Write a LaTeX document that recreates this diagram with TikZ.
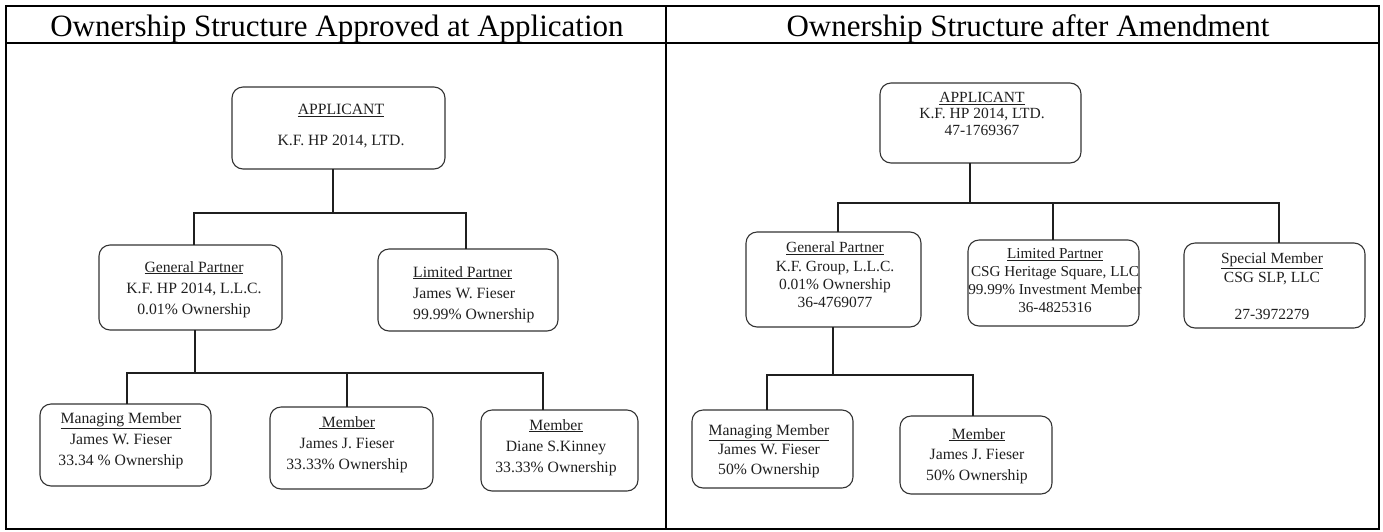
\documentclass[tikz,border=0pt]{standalone}
\usepackage{fontspec}
\setmainfont{Liberation Serif}
% box from (x1,y1) to (x2,y2), named #1
\newcommand\orgbox[5]{\node[ownbox, minimum width={#4-#2}, minimum height={#5-#3}] (#1) at ({(#2+#4)/2},{(#3+#5)/2}) {};}
\begin{document}
\begin{tikzpicture}[x=1pt,y=-1pt,
  ownbox/.style={draw=black!80, line width=1.1pt, rounded corners=11pt, inner sep=0pt, outer sep=0pt},
  boxtext/.style={inner sep=0pt, anchor=north, align=center, text=black!88},
  link/.style={draw=black!88, line width=1.4pt},
  frame/.style={line width=2pt},
  head/.style={anchor=base, font=\fontsize{31}{38}\selectfont}]
\useasboundingbox (0,0) rectangle (1383,531);

% table frame
\draw[frame] (6,6) rectangle (1379,529);
\draw[frame] (6,43) -- (1379,43);
\draw[frame] (666,6) -- (666,529);
\node[head] (hL) at (337,36) {Ownership Structure Approved at Application};
\node[head] (hR) at (1028,36) {Ownership Structure after Amendment};

% ---------- structure approved at application ----------
\orgbox{appL}{232}{87}{445}{169}
\node[boxtext, font=\fontsize{15.7}{31}\selectfont] (appLt) at (341,104) {\underline{APPLICANT}\\K.F. HP 2014, LTD.};

\orgbox{gpL}{99}{245}{282}{330}
\node[boxtext, font=\fontsize{15.7}{21}\selectfont] (gpLt) at (194,261) {\underline{General Partner}\\K.F. HP 2014, L.L.C.\\0.01\% Ownership};

\orgbox{lpL}{378}{249}{558}{331}
\node[boxtext, anchor=north west, align=left, font=\fontsize{15.7}{21}\selectfont] (lpLt) at (413,266) {\underline{Limited Partner}\\James W. Fieser\\99.99\% Ownership};

\orgbox{mmL}{40}{404}{211}{486}
\node[boxtext, font=\fontsize{15.7}{21}\selectfont] (mmLt) at (121,412) {\underline{Managing Member}\\James W. Fieser\\33.34 \% Ownership};

\orgbox{mbLa}{270}{407}{433}{489}
\node[boxtext, font=\fontsize{15.7}{21}\selectfont] (mbLat) at (347,416) {\underline{\hspace{3pt}Member}\\James J. Fieser\\33.33\% Ownership};

\orgbox{mbLb}{481}{410}{638}{491}
\node[boxtext, font=\fontsize{15.7}{21}\selectfont] (mbLbt) at (556,419) {\underline{Member}\\Diane S.Kinney\\33.33\% Ownership};

% connectors
\coordinate (jLa) at (333,213);
\coordinate (busLa) at (194,213);
\coordinate (busLb) at (466,213);
\draw[link] (jLa |- appL.south) -- (jLa);
\draw[link] (busLa |- gpL.north) -- (busLa) -- (busLb) -- (busLb |- lpL.north);
\coordinate (jLb) at (195,373);
\coordinate (busLc) at (127,373);
\coordinate (busLd) at (347,373);
\coordinate (busLe) at (543,373);
\draw[link] (jLb |- gpL.south) -- (jLb);
\draw[link] (busLc |- mmL.north) -- (busLc) -- (busLe) -- (busLe |- mbLb.north);
\draw[link] (busLd) -- (busLd |- mbLa.north);

% ---------- structure after amendment ----------
\orgbox{appR}{880}{83}{1081}{163}
\node[boxtext, font=\fontsize{15.5}{16.5}\selectfont] (appRt) at (982,92) {\underline{APPLICANT}\\K.F. HP 2014, LTD.\\47-1769367};

\orgbox{gpR}{746}{232}{921}{327}
\node[boxtext, font=\fontsize{15.5}{18.3}\selectfont] (gpRt) at (835,242) {\underline{General Partner}\\K.F. Group, L.L.C.\\0.01\% Ownership\\36-4769077};

\orgbox{lpR}{968}{240}{1139}{326}
\node[boxtext, font=\fontsize{15.2}{18}\selectfont] (lpRt) at (1055,248) {\underline{Limited Partner}\\CSG Heritage Square, LLC\\99.99\% Investment Member\\36-4825316};

\orgbox{smR}{1184}{243}{1365}{328}
\node[boxtext, font=\fontsize{15.5}{18.5}\selectfont] (smRt) at (1272,253) {\underline{Special Member}\\CSG SLP, LLC\\\mbox{}\\27-3972279};

\orgbox{mmR}{692}{410}{853}{488}
\node[boxtext, font=\fontsize{15.7}{19.5}\selectfont] (mmRt) at (769,424) {\underline{Managing Member}\\James W. Fieser\\50\% Ownership};

\orgbox{mbR}{900}{416}{1052}{494}
\node[boxtext, font=\fontsize{15.7}{20.5}\selectfont] (mbRt) at (977,428) {\underline{\hspace{3pt}Member}\\James J. Fieser\\50\% Ownership};

% connectors
\coordinate (jRa) at (970,203);
\coordinate (busRa) at (838,203);
\coordinate (busRb) at (1053,203);
\coordinate (busRc) at (1279,203);
\draw[link] (jRa |- appR.south) -- (jRa);
\draw[link] (busRa |- gpR.north) -- (busRa) -- (busRc) -- (busRc |- smR.north);
\draw[link] (busRb) -- (busRb |- lpR.north);
\coordinate (jRb) at (833,375);
\coordinate (busRd) at (767,375);
\coordinate (busRe) at (973,375);
\draw[link] (jRb |- gpR.south) -- (jRb);
\draw[link] (busRd |- mmR.north) -- (busRd) -- (busRe) -- (busRe |- mbR.north);
\end{tikzpicture}
\end{document}
